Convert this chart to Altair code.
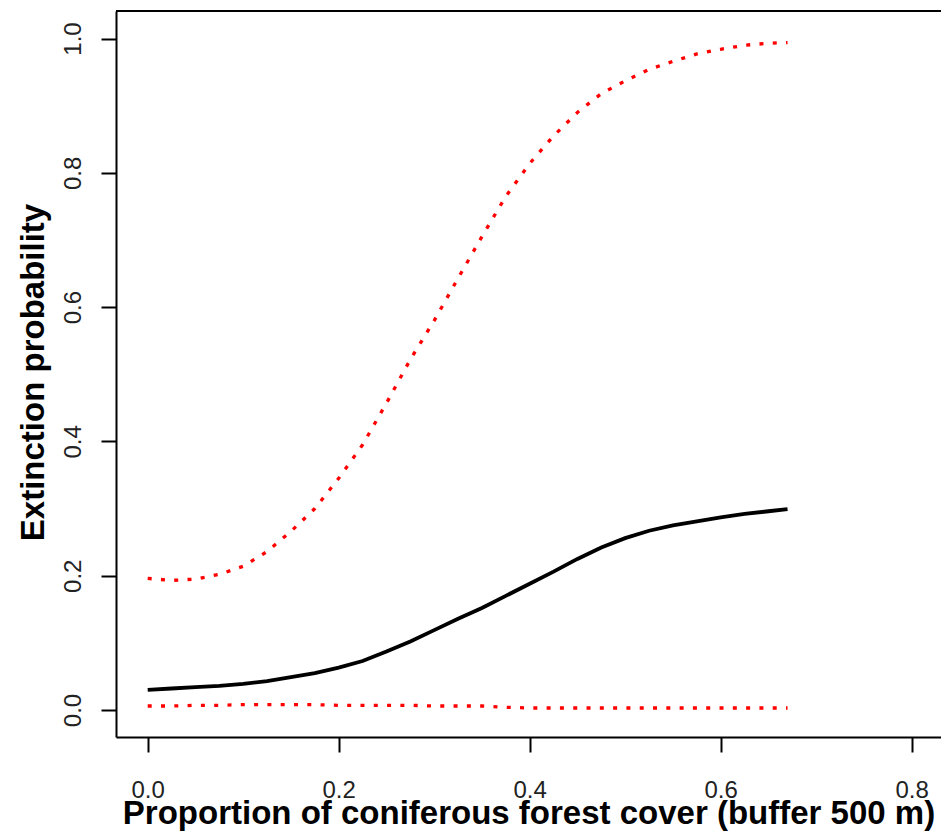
import altair as alt
import pandas as pd

# Coniferous forest cover (proportion within a 500 m buffer)
cover = [0.0, 0.025, 0.05, 0.075, 0.1, 0.125, 0.15, 0.175, 0.2, 0.225, 0.25,
         0.275, 0.3, 0.325, 0.35, 0.375, 0.4, 0.425, 0.45, 0.475, 0.5, 0.525,
         0.55, 0.575, 0.6, 0.625, 0.65, 0.67]

# Predicted extinction probability
fit = [0.030, 0.032, 0.034, 0.036, 0.039, 0.043, 0.049, 0.055, 0.063, 0.073,
       0.087, 0.102, 0.119, 0.136, 0.152, 0.170, 0.188, 0.206, 0.225, 0.242,
       0.256, 0.267, 0.275, 0.281, 0.287, 0.292, 0.296, 0.299]

# Upper and lower confidence limits
upper = [0.196, 0.193, 0.195, 0.202, 0.214, 0.236, 0.266, 0.300, 0.345, 0.395,
         0.457, 0.522, 0.580, 0.643, 0.705, 0.765, 0.814, 0.855, 0.890, 0.918,
         0.937, 0.954, 0.966, 0.977, 0.984, 0.990, 0.993, 0.994]
lower = [0.006, 0.006, 0.007, 0.007, 0.008, 0.008, 0.008, 0.008, 0.007, 0.007,
         0.007, 0.007, 0.006, 0.006, 0.006, 0.004, 0.003, 0.003, 0.003, 0.003,
         0.003, 0.003, 0.003, 0.003, 0.003, 0.003, 0.003, 0.003]

x_ticks = [0.0, 0.2, 0.4, 0.6, 0.8]
y_ticks = [0.0, 0.2, 0.4, 0.6, 0.8, 1.0]

df = pd.DataFrame({"cover": cover, "fit": fit, "upper": upper, "lower": lower})

W, H = 825, 726
FONT = "Liberation Sans"

x_scale = alt.Scale(domain=[-0.0332, 0.8307], nice=False, zero=False)
y_scale = alt.Scale(domain=[-0.0402, 1.041], nice=False, zero=False)

x_axis = alt.Axis(
    title="Proportion of coniferous forest cover (buffer 500 m)",
    values=x_ticks, format=".1f", grid=False,
    domainColor="black", domainWidth=2,
    tickColor="black", tickWidth=2, tickSize=15,
    labelFont=FONT, labelFontSize=24, labelColor="#222222",
    labelBaseline="alphabetic", labelPadding=45, labelFlush=False,
    titleFont=FONT, titleFontSize=33, titleFontWeight="bold",
    titleColor="black", titleBaseline="alphabetic", titleY=86,
)
y_axis = alt.Axis(
    title="Extinction probability",
    values=y_ticks, format=".1f", grid=False,
    domainColor="black", domainWidth=2,
    tickColor="black", tickWidth=2, tickSize=15,
    labelFont=FONT, labelFontSize=24, labelColor="#222222",
    labelAngle=270, labelAlign="center", labelBaseline="alphabetic",
    labelPadding=21, labelFlush=False,
    titleFont=FONT, titleFontSize=33, titleFontWeight="bold",
    titleColor="black", titleAngle=270, titleAlign="center",
    titleBaseline="alphabetic", titleX=-73, titleY=361,
)

base = alt.Chart(df)

fit_line = base.mark_line(color="black", strokeWidth=3.8).encode(
    x=alt.X("cover:Q", scale=x_scale, axis=x_axis),
    y=alt.Y("fit:Q", scale=y_scale, axis=y_axis),
)

upper_line = base.mark_line(
    color="#ff0000", strokeWidth=3.3, strokeDash=[4, 9.3], strokeCap="butt"
).encode(x=alt.X("cover:Q", scale=x_scale), y=alt.Y("upper:Q", scale=y_scale))

lower_line = base.mark_line(
    color="#ff0000", strokeWidth=3.3, strokeDash=[4, 9.3], strokeCap="butt"
).encode(x=alt.X("cover:Q", scale=x_scale), y=alt.Y("lower:Q", scale=y_scale))

# top edge of the plotting frame
top_edge = alt.Chart(df).mark_rule(color="black", strokeWidth=2).encode(
    x=alt.value(0), x2=alt.value(W), y=alt.value(0)
)

chart = (
    alt.layer(fit_line, upper_line, lower_line, top_edge)
    .properties(
        width=W, height=H,
        autosize=alt.AutoSizeParams(type="none"),
        padding={"left": 116, "top": 11, "right": 0, "bottom": 98},
        background="white",
    )
    .configure_view(stroke=None)
)

chart.save("out.html", embed_options={"renderer": "svg", "actions": False})
